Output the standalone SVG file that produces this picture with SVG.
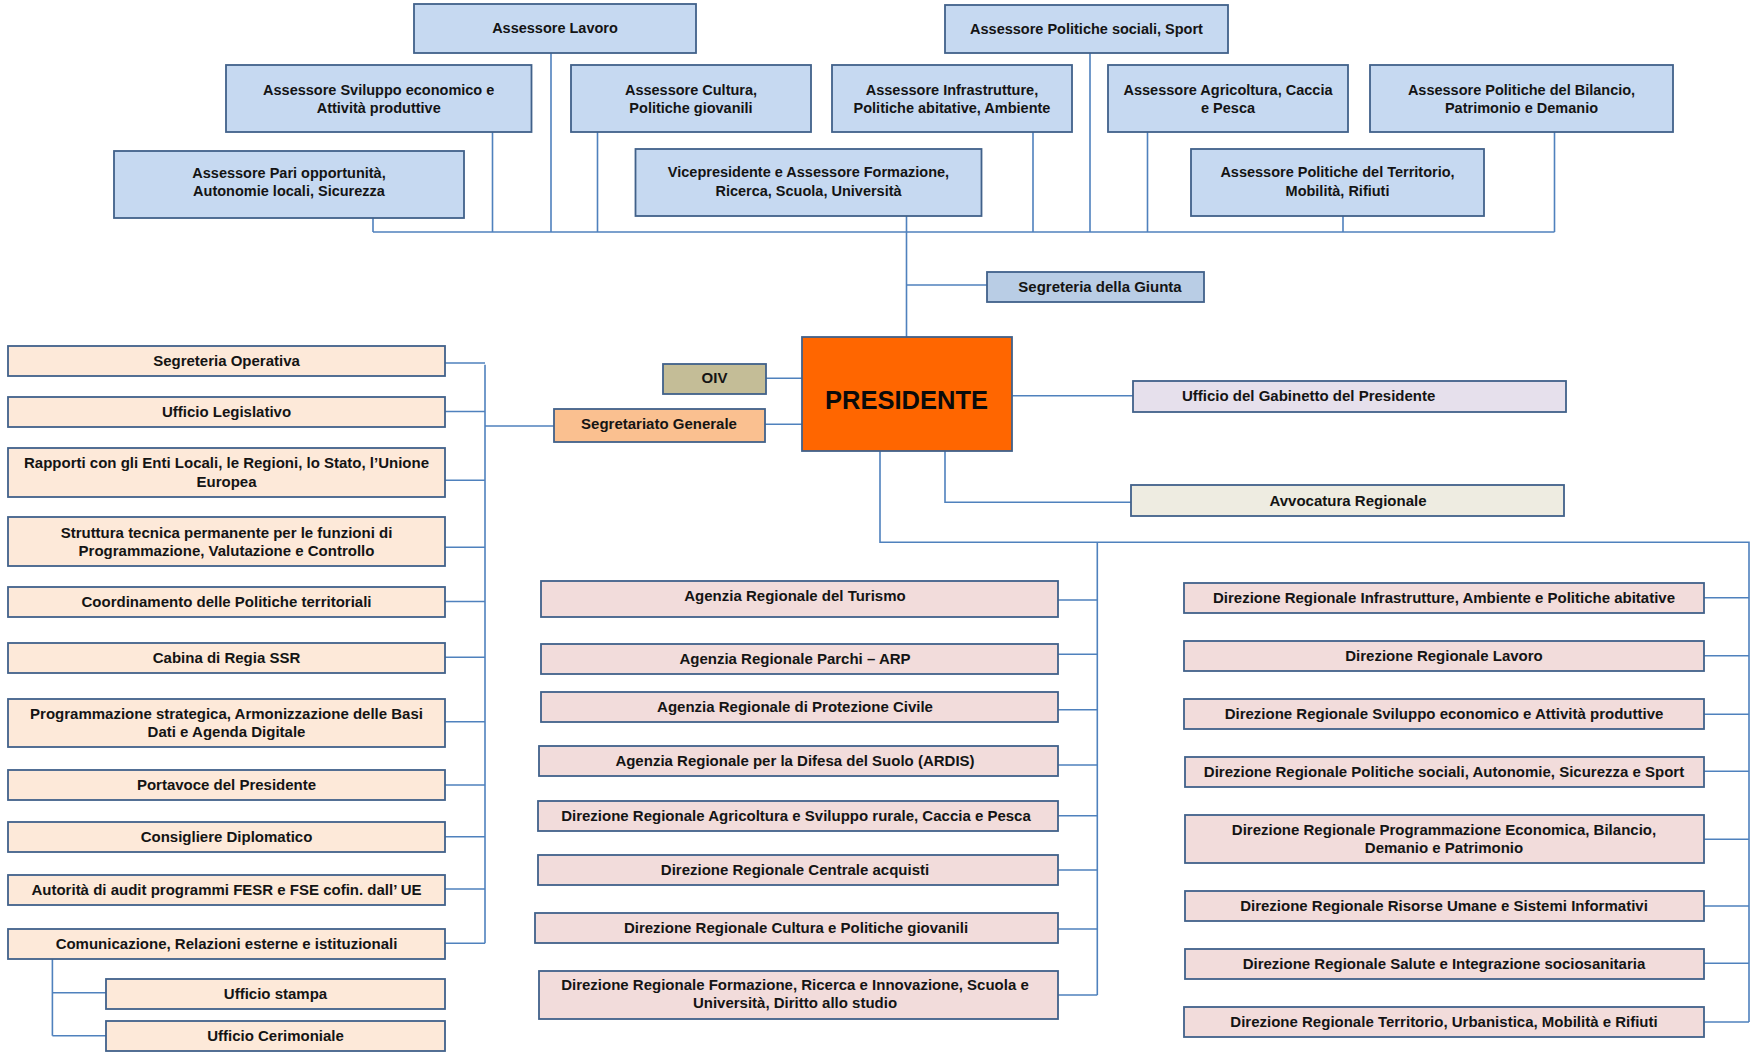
<svg xmlns="http://www.w3.org/2000/svg" width="1754" height="1052" viewBox="0 0 1754 1052">
  <style>
    .box { stroke: #41618A; stroke-width: 1.8; }
    .top { fill: #C6D9F1; }
    .giunta { fill: #B9CDE5; }
    .pres { fill: #FF6600; }
    .oiv { fill: #C4BD97; }
    .segr { fill: #FAC090; }
    .staff { fill: #FDE9D9; }
    .gab { fill: #E6E0EC; }
    .avv { fill: #EEECE1; }
    .pink { fill: #F2DCDB; }
    .conn path { fill: none; stroke: #4F81BD; stroke-width: 1.6; }
    text { font-family: "Liberation Sans", Arial, sans-serif; font-weight: bold; font-size: 15px; fill: #141414; text-anchor: middle; }
    .t14 { font-size: 14.5px; }
    .big { font-size: 25.5px; fill: #0A0A0A; }
    .left { text-anchor: start; }
  </style>
  <rect width="1754" height="1052" fill="#FFFFFF"/>

  <!-- connectors -->
  <g id="connectors" class="conn">
    <!-- giunta bus -->
    <path d="M373 232 H1554.5"/>
    <path d="M373 218 V232 M492.5 132 V232 M551 53 V232 M597.5 132 V232 M1033 132 V232 M1090 53 V232 M1147.5 132 V232 M1343 216 V232 M1554.5 132 V232"/>
    <path d="M906.5 216 V337"/>
    <path d="M906.5 285 H987"/>
    <!-- staff of the president -->
    <path d="M766 378.3 H802"/>
    <path d="M765 424.3 H802"/>
    <path d="M485 426 H554"/>
    <path d="M485 364.7 V943.3"/>
    <path d="M445 363 H485 M445 411.5 H485 M445 480.3 H485 M445 547.3 H485 M445 601.5 H485 M445 657.3 H485 M445 721.7 H485 M445 785 H485 M445 836.7 H485 M445 889 H485 M445 943.3 H485"/>
    <path d="M52.4 959 V1035.7 M52.4 992.7 H106 M52.4 1035.7 H106"/>
    <!-- right side offices -->
    <path d="M1012 395.7 H1133"/>
    <path d="M945 451 V502.3 H1131"/>
    <!-- agencies and departments -->
    <path d="M880 451 V542.3 H1749 V1022"/>
    <path d="M1097.3 542.3 V995"/>
    <path d="M1058 600 H1097.3 M1058 654.3 H1097.3 M1058 709.7 H1097.3 M1058 765 H1097.3 M1058 815.7 H1097.3 M1058 870 H1097.3 M1058 929 H1097.3 M1058 995 H1097.3"/>
    <path d="M1704 597.7 H1749 M1704 655.7 H1749 M1704 714.3 H1749 M1704 771.3 H1749 M1704 839.3 H1749 M1704 906 H1749 M1704 963.3 H1749 M1704 1022 H1749"/>
  </g>

  <!-- Giunta: assessori -->
  <g id="ass-lavoro"><rect class="box top" x="414" y="4" width="282" height="49"/><text class="t14" x="555" y="33">Assessore Lavoro</text></g>
  <g id="ass-sviluppo"><rect class="box top" x="226" y="65" width="305.5" height="67"/><text class="t14" x="378.7" y="95">Assessore Sviluppo economico e</text><text class="t14" x="378.7" y="113">Attività produttive</text></g>
  <g id="ass-cultura"><rect class="box top" x="571" y="65" width="240" height="67"/><text class="t14" x="691" y="95">Assessore Cultura,</text><text class="t14" x="691" y="113">Politiche giovanili</text></g>
  <g id="ass-infrastrutture"><rect class="box top" x="832" y="65" width="240" height="67"/><text class="t14" x="952" y="95">Assessore Infrastrutture,</text><text class="t14" x="952" y="113">Politiche abitative, Ambiente</text></g>
  <g id="ass-politiche-sociali"><rect class="box top" x="945" y="5" width="283" height="48"/><text class="t14" x="1086.5" y="33.5">Assessore Politiche sociali, Sport</text></g>
  <g id="ass-agricoltura"><rect class="box top" x="1108" y="65" width="240" height="67"/><text class="t14" x="1228" y="95">Assessore Agricoltura, Caccia</text><text class="t14" x="1228" y="113">e Pesca</text></g>
  <g id="ass-bilancio"><rect class="box top" x="1370" y="65" width="303" height="67"/><text class="t14" x="1521.5" y="95">Assessore Politiche del Bilancio,</text><text class="t14" x="1521.5" y="113">Patrimonio e Demanio</text></g>
  <g id="ass-pari-opportunita"><rect class="box top" x="114" y="151" width="350" height="67"/><text class="t14" x="289" y="177.5">Assessore Pari opportunità,</text><text class="t14" x="289" y="196">Autonomie locali, Sicurezza</text></g>
  <g id="vicepresidente"><rect class="box top" x="635.5" y="149" width="346" height="67"/><text class="t14" x="808.5" y="177">Vicepresidente e Assessore Formazione,</text><text class="t14" x="808.5" y="195.5">Ricerca, Scuola, Università</text></g>
  <g id="ass-territorio"><rect class="box top" x="1191" y="149" width="293" height="67"/><text class="t14" x="1337.5" y="177">Assessore Politiche del Territorio,</text><text class="t14" x="1337.5" y="195.5">Mobilità, Rifiuti</text></g>

  <g id="segreteria-giunta"><rect class="box giunta" x="987" y="272" width="217" height="30"/><text x="1100" y="291.5">Segreteria della Giunta</text></g>

  <!-- President and direct offices -->
  <g id="presidente"><rect class="box pres" x="802" y="337" width="210" height="114"/><text class="big" x="906.5" y="409">PRESIDENTE</text></g>
  <g id="oiv"><rect class="box oiv" x="663" y="364" width="103" height="30"/><text x="714.5" y="383">OIV</text></g>
  <g id="segretariato-generale"><rect class="box segr" x="554" y="409" width="211" height="33"/><text x="659" y="429">Segretariato Generale</text></g>
  <g id="ufficio-gabinetto"><rect class="box gab" x="1133" y="381" width="433" height="31"/><text class="left" x="1182" y="401">Ufficio del Gabinetto del Presidente</text></g>
  <g id="avvocatura"><rect class="box avv" x="1131" y="485" width="433" height="31"/><text x="1348" y="505.5">Avvocatura Regionale</text></g>

  <!-- Structures under the Segretariato Generale -->
  <g id="segreteria-operativa"><rect class="box staff" x="8" y="346" width="437" height="30"/><text x="226.5" y="365.5">Segreteria Operativa</text></g>
  <g id="ufficio-legislativo"><rect class="box staff" x="8" y="397" width="437" height="30"/><text x="226.5" y="416.5">Ufficio Legislativo</text></g>
  <g id="rapporti-enti"><rect class="box staff" x="8" y="448" width="437" height="49"/><text x="226.5" y="468">Rapporti con gli Enti Locali, le Regioni, lo Stato, l’Unione</text><text x="226.5" y="486.5">Europea</text></g>
  <g id="struttura-tecnica"><rect class="box staff" x="8" y="517" width="437" height="49"/><text x="226.5" y="538">Struttura tecnica permanente per le funzioni di</text><text x="226.5" y="556">Programmazione, Valutazione e Controllo</text></g>
  <g id="coordinamento"><rect class="box staff" x="8" y="587" width="437" height="30"/><text x="226.5" y="606.5">Coordinamento delle Politiche territoriali</text></g>
  <g id="cabina-regia"><rect class="box staff" x="8" y="643" width="437" height="30"/><text x="226.5" y="662.5">Cabina di Regia SSR</text></g>
  <g id="programmazione-strategica"><rect class="box staff" x="8" y="699" width="437" height="48"/><text x="226.5" y="719">Programmazione strategica, Armonizzazione delle Basi</text><text x="226.5" y="737">Dati e Agenda Digitale</text></g>
  <g id="portavoce"><rect class="box staff" x="8" y="770" width="437" height="30"/><text x="226.5" y="789.5">Portavoce del Presidente</text></g>
  <g id="consigliere-diplomatico"><rect class="box staff" x="8" y="822" width="437" height="30"/><text x="226.5" y="841.5">Consigliere Diplomatico</text></g>
  <g id="autorita-audit"><rect class="box staff" x="8" y="875" width="437" height="30"/><text x="226.5" y="894.5">Autorità di audit programmi FESR e FSE cofin. dall’ UE</text></g>
  <g id="comunicazione"><rect class="box staff" x="8" y="929" width="437" height="30"/><text x="226.5" y="948.5">Comunicazione, Relazioni esterne e istituzionali</text></g>
  <g id="ufficio-stampa"><rect class="box staff" x="106" y="979" width="339" height="30"/><text x="275.5" y="998.5">Ufficio stampa</text></g>
  <g id="ufficio-cerimoniale"><rect class="box staff" x="106" y="1021" width="339" height="30"/><text x="275.5" y="1040.5">Ufficio Cerimoniale</text></g>

  <!-- Agencies and central directorates -->
  <g id="agenzia-turismo"><rect class="box pink" x="541" y="581" width="517" height="36"/><text x="795" y="600.5">Agenzia Regionale del Turismo</text></g>
  <g id="agenzia-parchi"><rect class="box pink" x="541" y="644" width="517" height="30"/><text x="795" y="663.5">Agenzia Regionale Parchi – ARP</text></g>
  <g id="agenzia-protezione-civile"><rect class="box pink" x="541" y="692" width="517" height="30"/><text x="795" y="711.5">Agenzia Regionale di Protezione Civile</text></g>
  <g id="agenzia-ardis"><rect class="box pink" x="539" y="746" width="519" height="30"/><text x="795" y="765.5">Agenzia Regionale per la Difesa del Suolo (ARDIS)</text></g>
  <g id="dir-agricoltura"><rect class="box pink" x="538" y="801" width="520" height="30"/><text x="796" y="820.5">Direzione Regionale Agricoltura e Sviluppo rurale, Caccia e Pesca</text></g>
  <g id="dir-centrale-acquisti"><rect class="box pink" x="538" y="855" width="520" height="30"/><text x="795" y="874.5">Direzione Regionale Centrale acquisti</text></g>
  <g id="dir-cultura"><rect class="box pink" x="535" y="913" width="523" height="30"/><text x="796" y="932.5">Direzione Regionale Cultura e Politiche giovanili</text></g>
  <g id="dir-formazione"><rect class="box pink" x="539" y="971" width="519" height="48"/><text x="795" y="990">Direzione Regionale Formazione, Ricerca e Innovazione, Scuola e</text><text x="795" y="1008">Università, Diritto allo studio</text></g>

  <!-- Regional directorates -->
  <g id="dir-infrastrutture"><rect class="box pink" x="1184" y="583" width="520" height="30"/><text x="1444" y="602.5">Direzione Regionale Infrastrutture, Ambiente e Politiche abitative</text></g>
  <g id="dir-lavoro"><rect class="box pink" x="1184" y="641" width="520" height="30"/><text x="1444" y="660.5">Direzione Regionale Lavoro</text></g>
  <g id="dir-sviluppo"><rect class="box pink" x="1184" y="699" width="520" height="30"/><text x="1444" y="718.5">Direzione Regionale Sviluppo economico e Attività produttive</text></g>
  <g id="dir-politiche-sociali"><rect class="box pink" x="1185" y="757" width="519" height="30"/><text x="1444" y="776.5">Direzione Regionale Politiche sociali, Autonomie, Sicurezza e Sport</text></g>
  <g id="dir-programmazione"><rect class="box pink" x="1185" y="815" width="519" height="48"/><text x="1444" y="834.5">Direzione Regionale Programmazione Economica, Bilancio,</text><text x="1444" y="852.5">Demanio e Patrimonio</text></g>
  <g id="dir-risorse-umane"><rect class="box pink" x="1185" y="891" width="519" height="30"/><text x="1444" y="910.5">Direzione Regionale Risorse Umane e Sistemi Informativi</text></g>
  <g id="dir-salute"><rect class="box pink" x="1185" y="949" width="519" height="30"/><text x="1444" y="968.5">Direzione Regionale Salute e Integrazione sociosanitaria</text></g>
  <g id="dir-territorio"><rect class="box pink" x="1184" y="1007" width="520" height="30"/><text x="1444" y="1026.5">Direzione Regionale Territorio, Urbanistica, Mobilità e Rifiuti</text></g>
</svg>
